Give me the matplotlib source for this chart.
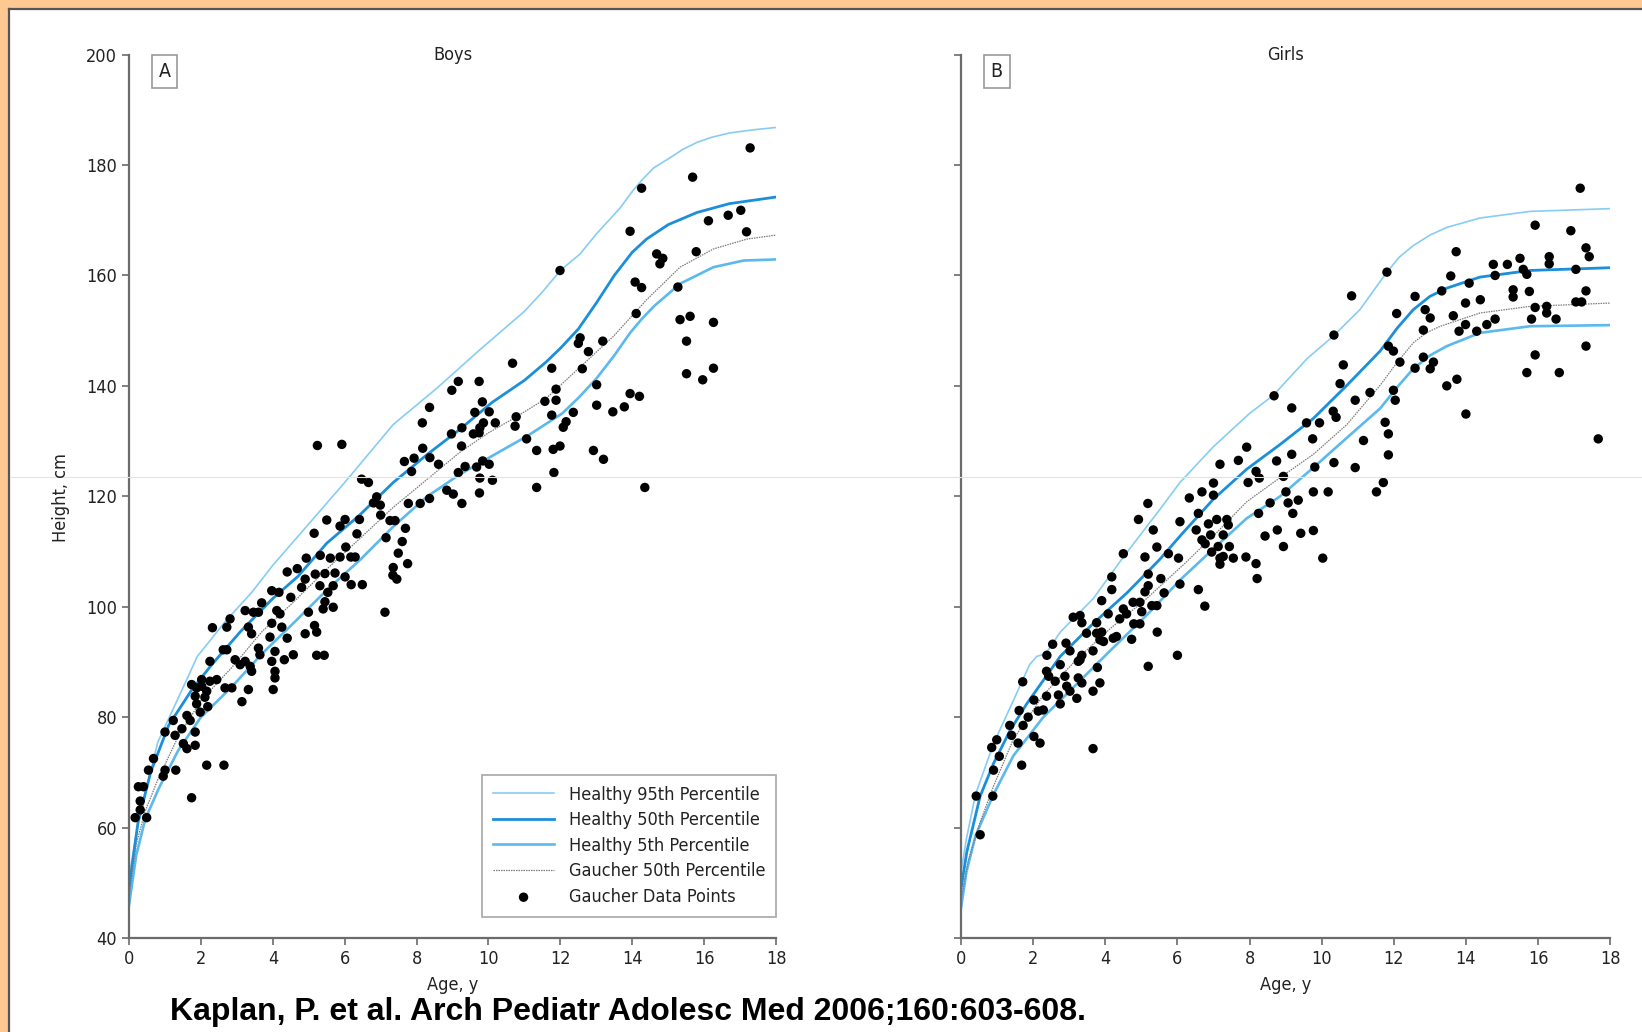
import matplotlib
matplotlib.use("Agg")
import matplotlib.pyplot as plt
from matplotlib import font_manager
from matplotlib.patches import Rectangle
from matplotlib.lines import Line2D

## pick a narrow sans if one is around
fonts = {(f.name, f.stretch) for f in font_manager.fontManager.ttflist}
if any(n == 'Liberation Sans Narrow' for n, s in fonts):
    plt.rcParams['font.family'] = ['Liberation Sans Narrow', 'DejaVu Sans']
elif ('DejaVu Sans', 'condensed') in fonts:
    plt.rcParams['font.family'] = ['DejaVu Sans']
    plt.rcParams['font.stretch'] = 'condensed'
else:
    plt.rcParams['font.family'] = ['Liberation Sans', 'DejaVu Sans']

## percentile curves (age in years, height in cm)
boys_p95_age = [0, 0.2, 0.45, 0.8, 1.3, 1.9, 2.7, 3.4, 4.0, 5.0, 6.0, 7.35, 8.55, 9.77, 11.0, 11.5, 12.0,
                12.55, 13.0, 13.66, 14.0, 14.3, 14.6, 15.0, 15.4, 15.8, 16.2, 16.7, 17.4, 18]
boys_p95 = [51, 59, 66, 75.5, 82.5, 91, 97.5, 102.5, 107.5, 115, 122.5, 133, 139.5, 146.6, 153.5, 157, 160.9,
            163.9, 167.5, 172.2, 175.2, 177.5, 179.5, 181.1, 182.8, 184.1, 185, 185.8, 186.4, 186.8]
boys_p50_age = [0, 0.25, 0.6, 1.1, 1.75, 2.3, 3.1, 4.0, 4.7, 5.5, 6.4, 7.35, 8.3, 9.2, 10.1, 11.0, 11.6,
                12.0, 12.5, 13.0, 13.5, 14.0, 14.4, 15.0, 15.8, 16.7, 18]
boys_p50 = [49, 61, 70, 78.5, 85, 89.5, 95.5, 101.5, 105.5, 111.5, 116.5, 122.5, 127.6, 132.1, 137, 141,
            144.3, 146.8, 150.3, 155, 160, 164.2, 166.6, 169.2, 171.4, 173, 174.2]
boys_p5_age = [0, 0.2, 0.45, 0.82, 1.37, 2.0, 2.86, 3.7, 4.57, 5.5, 6.43, 7.35, 8.28, 9.21, 10.1, 11.1,
               12.05, 12.5, 13.0, 13.5, 13.94, 14.25, 14.6, 15.33, 16.26, 17.1, 18]
boys_p5 = [46, 55, 61.5, 67, 74, 80, 85.5, 91.5, 97, 103, 108.5, 114.5, 119.9, 124, 127.3, 131,
           135, 137.8, 141.3, 145.5, 149.6, 152, 154.4, 158.5, 161.5, 162.7, 162.9]
boys_g50_age = [0, 0.2, 0.45, 0.82, 1.37, 2.0, 2.86, 3.7, 4.6, 5.5, 6.43, 7.35, 8.28, 9.21, 10.0, 10.7,
                11.6, 12.55, 13.48, 14.4, 15.33, 16.26, 17.2, 18]
boys_g50 = [47.5, 57, 63, 69, 76.5, 83, 89, 95.5, 101, 106.8, 112.4, 118, 123, 128, 131.5, 134.1,
            137.7, 143.4, 149, 155.6, 161.5, 164.8, 166.6, 167.3]

girls_p95_age = [0, 0.15, 0.4, 0.9, 1.45, 1.9, 2.1, 2.35, 2.75, 3.67, 4.5, 5.5, 6.07, 7.0, 8.0, 8.66,
                 9.59, 10.32, 11.06, 11.81, 12.15, 12.54, 13.0, 13.47, 14.39, 15.78, 18]
girls_p95 = [52, 58, 66, 75.2, 83, 89.5, 91, 91.5, 95.4, 101.5, 109, 117.5, 122.5, 129, 135, 138.3,
             144.9, 149, 153.8, 160.6, 163.3, 165.4, 167.3, 168.7, 170.4, 171.6, 172.1]
girls_p50_age = [0, 0.16, 0.53, 0.9, 1.36, 1.82, 2.75, 3.67, 4.6, 5.5, 6.1, 7.0, 7.92, 8.85, 9.77,
                 10.7, 11.62, 12.1, 12.54, 13.0, 13.47, 14.39, 15.78, 18]
girls_p50 = [49, 55.6, 65.7, 71.6, 77.6, 82.4, 91, 97, 102.5, 108.5, 113, 119.5, 124.9, 129.4, 134.1,
             140.1, 146.3, 150.5, 153.8, 156.2, 157.7, 159.7, 160.9, 161.4]
girls_p5_age = [0, 0.15, 0.4, 0.9, 1.45, 2.28, 3.21, 4.13, 5.15, 6.1, 7.0, 7.92, 8.85, 9.77, 10.7,
                11.62, 12.1, 12.54, 13.0, 13.47, 14.39, 15.78, 18]
girls_p5 = [45.5, 52, 58.5, 66, 73, 80, 86, 92, 98.5, 105, 110.5, 116, 120, 125.2, 130.6,
            135.9, 139.8, 143.1, 145.5, 147.2, 149.6, 150.8, 151]
girls_g50_age = [0, 0.2, 0.53, 0.9, 1.45, 2.28, 3.21, 4.13, 5.15, 6.2, 7.1, 7.92, 8.85, 9.77, 10.7,
                 11.62, 12.1, 12.54, 12.9, 13.29, 14.39, 15.78, 18]
girls_g50 = [47, 54, 61, 67.5, 76, 84, 90.5, 96, 101.5, 107.8, 113.5, 119, 123.4, 127.6, 133,
             140.1, 144.3, 147.8, 149.6, 150.8, 153.2, 154.4, 155]

## Gaucher data points (age, height)
boys_pts = [
    (4.40, 106.3), (4.68, 106.9), (4.90, 105.0), (5.18, 105.9), (5.45, 106.0), (5.73, 106.1), (6.01, 105.4),
    (6.18, 104.0), (6.49, 104.0), (3.97, 102.9), (4.17, 102.6), (4.50, 101.7), (4.80, 103.5), (5.31, 103.8),
    (5.53, 102.6), (5.68, 103.8), (3.69, 100.7), (3.23, 99.3), (3.46, 99.0), (3.60, 99.0), (4.11, 99.3),
    (4.20, 98.7), (4.99, 99.0), (5.40, 99.6), (5.68, 99.9), (5.45, 100.9), (2.81, 97.8), (2.72, 96.3),
    (2.32, 96.2), (3.32, 96.3), (3.41, 95.1), (3.97, 97.0), (4.25, 96.3), (3.92, 94.5), (4.40, 94.3),
    (4.90, 95.1), (5.16, 96.6), (5.22, 95.4), (2.62, 92.2), (2.72, 92.2), (2.25, 90.1), (3.60, 92.5),
    (3.64, 91.3), (3.97, 90.1), (4.06, 91.9), (4.32, 90.4), (4.57, 91.3), (5.22, 91.2), (5.43, 91.2),
    (2.95, 90.4), (3.09, 89.5), (3.23, 90.1), (3.37, 89.2), (3.41, 88.3), (4.06, 88.3), (4.06, 87.1),
    (4.01, 85.0), (3.32, 85.0), (3.14, 82.8), (1.74, 85.9), (1.88, 85.3), (2.02, 85.6), (2.16, 84.7),
    (1.84, 83.8), (2.11, 83.6), (2.44, 86.8), (2.67, 85.3), (2.86, 85.3), (2.02, 86.8), (2.25, 86.5),
    (1.88, 82.4), (2.19, 81.9), (1.98, 80.9), (1.61, 80.3), (1.70, 79.4), (1.23, 79.4), (1.47, 77.9),
    (1.00, 77.3), (1.28, 76.7), (1.84, 77.3), (1.51, 75.2), (1.61, 74.3), (1.84, 74.9), (2.16, 71.3),
    (2.64, 71.3), (0.68, 72.5), (0.54, 70.4), (1.00, 70.4), (1.30, 70.4), (0.95, 69.3), (0.26, 67.4),
    (0.40, 67.4), (0.31, 64.8), (0.31, 63.2), (0.17, 61.8), (0.49, 61.8), (1.74, 65.4), (7.12, 99.0),
    (5.24, 129.2), (5.92, 129.4), (10.67, 144.1), (9.16, 140.8), (8.98, 139.2), (9.74, 140.8), (11.76, 143.2),
    (9.83, 137.1), (8.36, 136.1), (8.16, 133.3), (9.62, 135.2), (10.02, 135.3), (11.57, 137.2), (11.88, 139.4),
    (11.88, 137.4), (11.76, 134.7), (10.77, 134.4), (10.74, 132.7), (8.97, 131.3), (9.26, 132.4), (9.58, 131.3),
    (9.76, 132.4), (9.86, 133.3), (10.19, 133.3), (9.74, 131.5), (9.25, 129.1), (8.17, 128.7), (7.66, 126.3),
    (7.93, 126.9), (8.37, 127.0), (8.61, 125.8), (7.86, 124.5), (9.35, 125.4), (9.16, 124.3), (9.67, 125.3),
    (9.84, 126.4), (10.02, 125.8), (11.06, 130.4), (11.34, 128.3), (11.80, 128.5), (11.82, 124.3), (9.76, 123.3),
    (10.11, 122.9), (9.75, 120.6), (11.34, 121.6), (6.47, 123.1), (6.66, 122.5), (6.89, 119.9), (6.80, 118.8),
    (6.99, 118.4), (7.77, 118.7), (8.10, 118.7), (8.36, 119.6), (8.84, 121.1), (9.02, 120.4), (9.26, 118.7),
    (7.00, 116.6), (7.26, 115.6), (7.40, 115.6), (7.69, 114.2), (7.15, 112.5), (7.60, 111.8), (7.49, 109.7),
    (7.75, 107.8), (7.35, 107.1), (7.34, 105.7), (7.45, 105.0), (5.50, 115.7), (5.87, 114.6), (6.01, 115.8),
    (6.41, 115.8), (5.15, 113.3), (6.34, 113.2), (6.03, 110.8), (4.93, 108.8), (5.32, 109.3), (5.60, 108.8),
    (5.87, 109.0), (6.17, 109.0), (6.29, 109.0),
    (17.28, 183.1), (15.68, 177.8), (14.26, 175.8), (13.94, 168.0), (11.99, 160.9), (16.12, 169.9), (16.67, 170.9),
    (17.02, 171.8), (17.18, 167.9), (14.68, 163.9), (14.85, 163.1), (14.77, 162.1), (15.78, 164.3), (14.08, 158.8),
    (14.26, 157.8), (15.27, 157.9), (14.11, 153.1), (15.33, 152.0), (15.61, 152.6), (16.26, 151.5), (15.51, 148.1),
    (15.51, 142.2), (15.96, 141.1), (16.26, 143.2), (12.55, 148.7), (12.50, 147.7), (12.78, 146.2), (13.18, 148.1),
    (12.61, 143.1), (13.01, 140.2), (13.01, 136.5), (13.46, 135.3), (13.78, 136.2), (13.94, 138.6), (14.20, 138.1),
    (12.36, 135.2), (12.16, 133.5), (12.08, 132.5), (11.99, 129.1), (12.92, 128.3), (13.20, 126.7), (14.35, 121.6),
]

girls_pts = [
    (4.92, 115.8), (5.33, 113.9), (6.07, 115.4), (6.58, 116.9), (6.86, 115.0), (7.09, 115.8), (7.37, 115.8),
    (7.41, 114.8), (6.52, 113.9), (6.68, 112.1), (6.77, 111.4), (6.92, 113.0), (7.27, 113.0), (7.13, 110.9),
    (7.44, 110.9), (6.95, 109.9), (7.18, 108.8), (7.27, 109.1), (7.55, 108.8), (7.18, 107.7), (7.90, 109.0),
    (8.18, 107.8), (8.21, 105.1), (5.43, 110.8), (5.75, 109.6), (6.03, 108.8), (5.10, 109.0), (4.50, 109.6),
    (5.19, 105.9), (5.54, 105.1), (6.07, 104.1), (6.58, 103.1), (6.76, 100.1), (5.63, 102.5), (4.18, 105.4),
    (4.18, 103.1), (3.90, 101.1), (5.19, 103.8), (5.10, 102.7), (4.96, 100.8), (5.29, 100.2), (5.43, 100.2),
    (4.77, 100.8), (5.01, 99.1), (4.50, 99.6), (4.59, 98.7), (4.40, 97.8), (4.79, 96.9), (4.96, 96.9),
    (4.08, 98.7), (3.11, 98.1), (3.30, 98.4), (3.35, 97.1), (3.76, 97.1), (3.48, 95.2), (3.76, 95.2),
    (3.90, 95.4), (3.85, 94.0), (3.95, 93.7), (4.22, 94.3), (4.31, 94.6), (4.73, 94.1), (5.44, 95.4),
    (2.54, 93.2), (2.91, 93.4), (3.02, 92.0), (2.38, 91.2), (3.35, 91.2), (3.30, 90.4), (3.25, 90.1),
    (3.66, 92.0), (3.78, 89.0), (2.75, 89.5), (2.37, 88.3), (2.43, 87.4), (2.61, 86.5), (2.88, 87.4),
    (3.25, 87.1), (3.35, 86.2), (3.85, 86.2), (1.71, 86.4), (2.93, 85.6), (3.02, 84.7), (3.66, 84.7),
    (2.70, 84.0), (3.21, 83.4), (2.75, 82.4), (2.37, 83.8), (2.02, 83.1), (2.14, 81.1), (2.28, 81.3),
    (1.86, 80.0), (1.61, 81.2), (1.72, 78.5), (1.35, 78.5), (1.40, 76.7), (1.58, 75.3), (2.02, 76.5),
    (2.19, 75.3), (0.99, 75.9), (0.85, 74.5), (1.06, 72.9), (0.90, 70.4), (1.68, 71.3), (3.66, 74.3),
    (0.42, 65.7), (0.88, 65.7), (0.53, 58.7), (5.19, 89.2), (6.00, 91.2), (5.18, 118.7),
    (17.17, 175.8), (15.92, 169.1), (16.91, 168.1), (13.73, 164.3), (11.81, 160.6), (17.33, 165.0), (17.42, 163.4),
    (14.76, 162.0), (15.15, 162.0), (15.50, 163.1), (16.31, 163.4), (16.31, 162.1), (15.59, 161.1), (15.69, 160.2),
    (14.81, 160.0), (13.58, 159.9), (17.05, 161.1), (14.09, 158.6), (13.33, 157.2), (15.31, 157.4), (15.31, 156.1),
    (15.76, 157.1), (17.33, 157.2), (12.59, 156.2), (10.83, 156.3), (13.99, 155.0), (14.40, 155.6), (17.05, 155.2),
    (17.21, 155.2), (15.92, 154.2), (16.24, 154.4), (16.24, 153.2), (16.50, 152.1), (15.82, 152.1), (12.08, 153.1),
    (12.87, 153.8), (13.01, 152.3), (13.65, 152.7), (14.81, 152.1), (13.99, 151.1), (13.81, 149.9), (14.30, 149.9),
    (14.58, 151.1), (12.82, 150.1), (10.34, 149.2), (11.85, 147.2), (11.99, 146.3), (17.33, 147.2), (12.17, 144.3),
    (12.82, 145.2), (13.10, 144.3), (12.59, 143.2), (13.01, 143.1), (15.92, 145.6), (10.60, 143.8), (10.51, 140.4),
    (11.99, 139.2), (12.04, 137.4), (15.69, 142.4), (16.59, 142.4), (13.47, 140.0), (13.75, 141.2), (14.00, 134.9),
    (17.67, 130.4), (10.93, 137.4), (11.34, 138.8), (8.68, 138.2), (9.17, 136.0), (9.58, 133.3), (9.94, 133.3),
    (10.32, 135.4), (10.40, 134.3), (9.75, 130.4), (11.76, 133.4), (11.85, 131.3), (11.16, 130.1), (11.85, 127.5),
    (7.92, 128.9), (7.69, 126.5), (8.75, 126.4), (9.17, 127.6), (9.81, 125.3), (10.34, 126.1), (10.93, 125.2),
    (7.18, 125.8), (8.18, 124.5), (8.27, 123.3), (8.94, 123.6), (7.96, 122.5), (7.00, 122.4), (6.68, 120.8),
    (6.33, 119.7), (7.00, 120.2), (11.71, 122.5), (11.52, 120.8), (9.01, 120.8), (9.07, 118.8), (9.35, 119.3),
    (9.77, 120.8), (10.18, 120.8), (8.57, 118.8), (8.25, 116.9), (9.20, 116.9), (8.43, 112.8), (8.77, 113.9),
    (9.42, 113.3), (9.77, 113.8), (8.94, 110.9), (10.03, 108.8),
]

x_ticks = list(range(0, 19, 2))
y_ticks = list(range(40, 201, 20))
legend_labels = ["Healthy 95th Percentile", "Healthy 50th Percentile", "Healthy 5th Percentile",
                 "Gaucher 50th Percentile", "Gaucher Data Points"]

c95 = '#86cdf3'
c50 = '#1b8fd9'
c5 = '#5bb9ee'
cg = '#7a7a7a'
axis_col = '#6b6b6b'
txt_col = '#222222'

fig = plt.figure(figsize=(16.42, 10.32), dpi=100)
fig.patch.set_facecolor('white')

# orange frame on the left and top
fig.patches.append(Rectangle((0, 0), 8 / 1642, 1, transform=fig.transFigure, color='#fec893', zorder=0))
fig.patches.append(Rectangle((0, 1 - 8 / 1032), 1, 8 / 1032, transform=fig.transFigure, color='#fec893', zorder=0))
fig.lines.append(Line2D([9 / 1642, 9 / 1642], [0, 1 - 9 / 1032], transform=fig.transFigure, color='#555555', lw=1.6))
fig.lines.append(Line2D([9 / 1642, 1], [1 - 9 / 1032, 1 - 9 / 1032], transform=fig.transFigure, color='#555555', lw=1.6))
fig.lines.append(Line2D([10 / 1642, 1], [1 - 477 / 1032] * 2, transform=fig.transFigure, color='#fcdcc0', lw=0.8))

ax_b = fig.add_axes([0.0786, 0.0911, 0.394, 0.8560])
ax_g = fig.add_axes([0.5853, 0.0911, 0.3953, 0.8560])

panels = [
    (ax_b, "Boys", "A", boys_p95_age, boys_p95, boys_p50_age, boys_p50, boys_p5_age, boys_p5,
     boys_g50_age, boys_g50, boys_pts),
    (ax_g, "Girls", "B", girls_p95_age, girls_p95, girls_p50_age, girls_p50, girls_p5_age, girls_p5,
     girls_g50_age, girls_g50, girls_pts),
]

for (ax, title, letter, a95, h95, a50, h50, a5, h5, ag, hg, pts) in panels:
    ax.plot(a95, h95, color=c95, lw=1.2, label=legend_labels[0], zorder=2)
    ax.plot(a50, h50, color=c50, lw=2.0, label=legend_labels[1], zorder=2)
    ax.plot(a5, h5, color=c5, lw=1.9, label=legend_labels[2], zorder=2)
    ax.plot(ag, hg, color=cg, lw=0.9, ls=(0, (1.2, 0.8)), label=legend_labels[3], zorder=2)
    xs = [p[0] for p in pts]
    ys = [p[1] for p in pts]
    ax.scatter(xs, ys, s=46, color='black', edgecolors='none', label=legend_labels[4], zorder=3)

    ax.set_xlim(0, 18)
    ax.set_ylim(40, 200)
    ax.set_xticks(x_ticks)
    ax.set_yticks(y_ticks)
    for s in ['top', 'right']:
        ax.spines[s].set_visible(False)
    for s in ['left', 'bottom']:
        ax.spines[s].set_color(axis_col)
        ax.spines[s].set_linewidth(1.6)
    ax.tick_params(axis='both', colors=axis_col, labelcolor=txt_col, labelsize=13, length=5, width=1.2)
    ax.set_xlabel("Age, y", fontsize=13, color=txt_col, labelpad=6)
    ax.text(0.5, 1.0, title, transform=ax.transAxes, ha='center', va='center', fontsize=13, color=txt_col)
    ax.text(0.055, 0.981, letter, transform=ax.transAxes, ha='center', va='center', fontsize=14,
            color=txt_col, bbox=dict(boxstyle='square,pad=0.35', fc='white', ec='#999999', lw=1.2))

ax_g.tick_params(axis='y', labelleft=False)
fig.text(0.037, 0.518, "Height, cm", rotation=90, ha='center', va='center', fontsize=13, color=txt_col)

leg = ax_b.legend(loc='lower right', bbox_to_anchor=(1.0, 0.024), borderaxespad=0, fontsize=13,
                  frameon=True, fancybox=False, handlelength=3.4, labelspacing=0.42, borderpad=0.6,
                  handletextpad=0.8, scatterpoints=1, markerscale=1.0)
leg.get_frame().set_edgecolor('#9a9a9a')
leg.get_frame().set_linewidth(1.3)
for t in leg.get_texts():
    t.set_color(txt_col)

fig.text(170 / 1642, 0.0198, "Kaplan, P. et al. Arch Pediatr Adolesc Med 2006;160:603-608.",
         ha='left', va='center', fontsize=23, fontweight='bold', family='Liberation Sans',
         stretch='normal', color='black')

fig.savefig("out.png", dpi=100)
